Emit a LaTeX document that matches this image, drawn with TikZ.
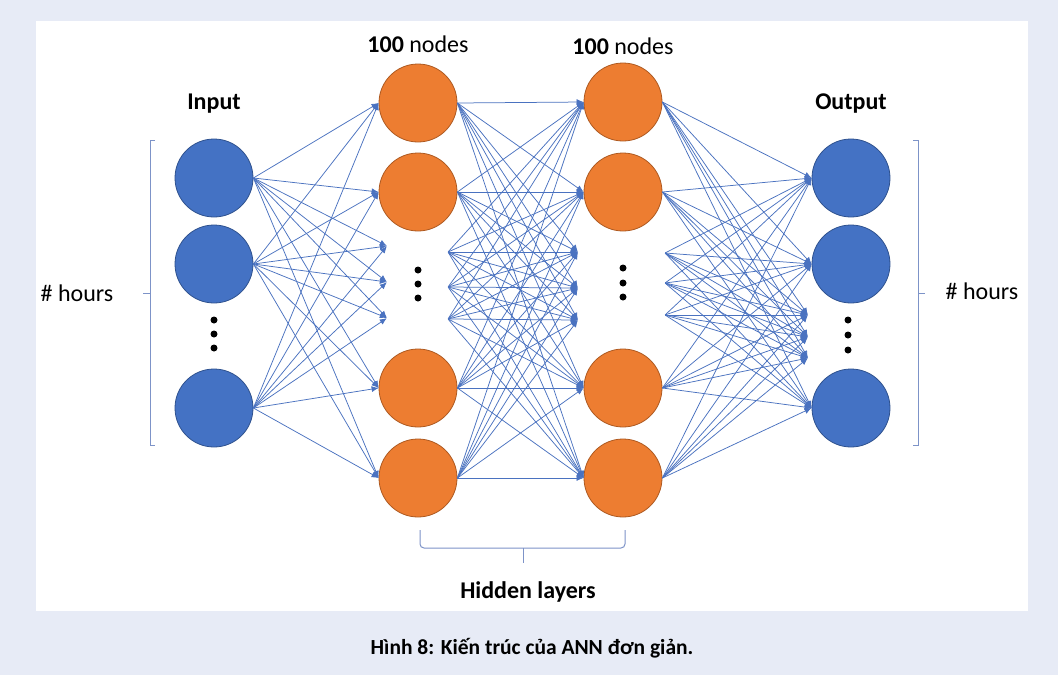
\documentclass[tikz,border=0pt]{standalone}
\usepackage{fontspec}
\setmainfont{Carlito}
\usetikzlibrary{arrows.meta}
\definecolor{pagebg}{HTML}{E7EBF6}
\definecolor{nodeblue}{HTML}{4472C4}
\definecolor{blueline}{HTML}{2F528F}
\definecolor{nodeorange}{HTML}{ED7D31}
\definecolor{orangeline}{HTML}{AE5A21}
\definecolor{edgeblue}{HTML}{4A72C0}
\definecolor{bracketblue}{HTML}{7D93C8}
\tikzset{
  unit/.style={circle,minimum size=78pt,inner sep=0pt,line width=0.8pt},
  inunit/.style={unit,fill=nodeblue,draw=blueline},
  hidunit/.style={unit,fill=nodeorange,draw=orangeline},
  ghost/.style={inner sep=0pt,minimum size=0pt},
  link/.style={draw=edgeblue,line width=0.75pt,-{Latex[length=7pt,width=6pt]}},
  bracket/.style={draw=bracketblue,line width=1pt},
  heading/.style={inner sep=0pt,font=\fontsize{24}{28.8}\selectfont\bfseries},
  plain/.style={inner sep=0pt,font=\fontsize{24}{28.8}\selectfont}
}
\begin{document}
\begin{tikzpicture}[x=1pt,y=-1pt]
\path[use as bounding box,fill=pagebg] (0,0) rectangle (1058,675);
\fill[white] (36,21) rectangle (1028,611);
% layers
\node[inunit] (in1) at (214,178) {};
\node[inunit] (in2) at (214,264) {};
\node[inunit] (in3) at (214,408) {};
\node[hidunit] (hA1) at (418,103) {};
\node[hidunit] (hA2) at (418,192) {};
\node[hidunit] (hA3) at (418,388) {};
\node[hidunit] (hA4) at (418,478) {};
\node[hidunit] (hB1) at (623,102) {};
\node[hidunit] (hB2) at (623,192) {};
\node[hidunit] (hB3) at (623,388) {};
\node[hidunit] (hB4) at (623,478) {};
\node[inunit] (out1) at (851,178) {};
\node[inunit] (out2) at (851,264) {};
\node[inunit] (out3) at (851,408) {};
% hidden ends of the links behind the dots
\node[ghost] (gA1) at (387,246) {};
\node[ghost] (gA2) at (387,282) {};
\node[ghost] (gA3) at (387,318) {};
\node[ghost] (sA1) at (448,252) {};
\node[ghost] (sA2) at (448,287) {};
\node[ghost] (sA3) at (448,319) {};
\node[ghost] (gB1) at (578,252) {};
\node[ghost] (gB2) at (578,288) {};
\node[ghost] (gB3) at (578,320) {};
\node[ghost] (sB1) at (665,253) {};
\node[ghost] (sB2) at (665,283) {};
\node[ghost] (sB3) at (665,315) {};
\node[ghost] (gC1) at (808,315) {};
\node[ghost] (gC2) at (808,337) {};
\node[ghost] (gC3) at (808,358) {};
% links
\foreach \s in {in1.east,in2.east,in3.east}
  \foreach \t in {hA1.west,hA2.west,gA1,gA2,gA3,hA3.west,hA4.west}
    \draw[link] (\s) -- (\t);
\foreach \s in {hA1.east,hA2.east,sA1,sA2,sA3,hA3.east,hA4.east}
  \foreach \t in {hB1.west,hB2.west,gB1,gB2,gB3,hB3.west,hB4.west}
    \draw[link] (\s) -- (\t);
\foreach \s in {hB1.east,hB2.east,sB1,sB2,sB3,hB3.east,hB4.east}
  \foreach \t in {out1.west,out2.west,gC1,gC2,gC3,out3.west}
    \draw[link] (\s) -- (\t);
% dots
\foreach \x/\y in {214/320,214/334,214/348,418/270,418/284,418/298,623/268,623/283,623/297,848/320,848/335,848/350}
  \fill (\x,\y) circle (3.5);
% brackets
\draw[bracket] (155,140) -- (150,140) -- (150,445) -- (155,445);
\draw[bracket] (150,293) -- (143,293);
\draw[bracket] (913,140) -- (918,140) -- (918,445) -- (913,445);
\draw[bracket] (918,293) -- (925,293);
\draw[bracket,rounded corners=4pt] (420,530) -- (420,548) -- (625,548) -- (625,530);
\draw[bracket] (523,548) -- (523,563);
% texts
\node[heading] (tin) at (214,104) {Input};
\node[plain] (tA) at (418,44) {\textbf{100} nodes};
\node[plain] (tB) at (623,46) {\textbf{100} nodes};
\node[heading] (tout) at (851,104) {Output};
\node[plain] (hl) at (77,293) {\# hours};
\node[plain] (hr) at (982,291) {\# hours};
\node[heading] (thid) at (528,592) {Hidden layers};
\node[inner sep=0pt,font=\fontsize{21.5}{25.8}\selectfont\bfseries] (cap) at (532,648) {Hình 8: Kiến trúc của ANN đơn giản.};
\end{tikzpicture}
\end{document}
